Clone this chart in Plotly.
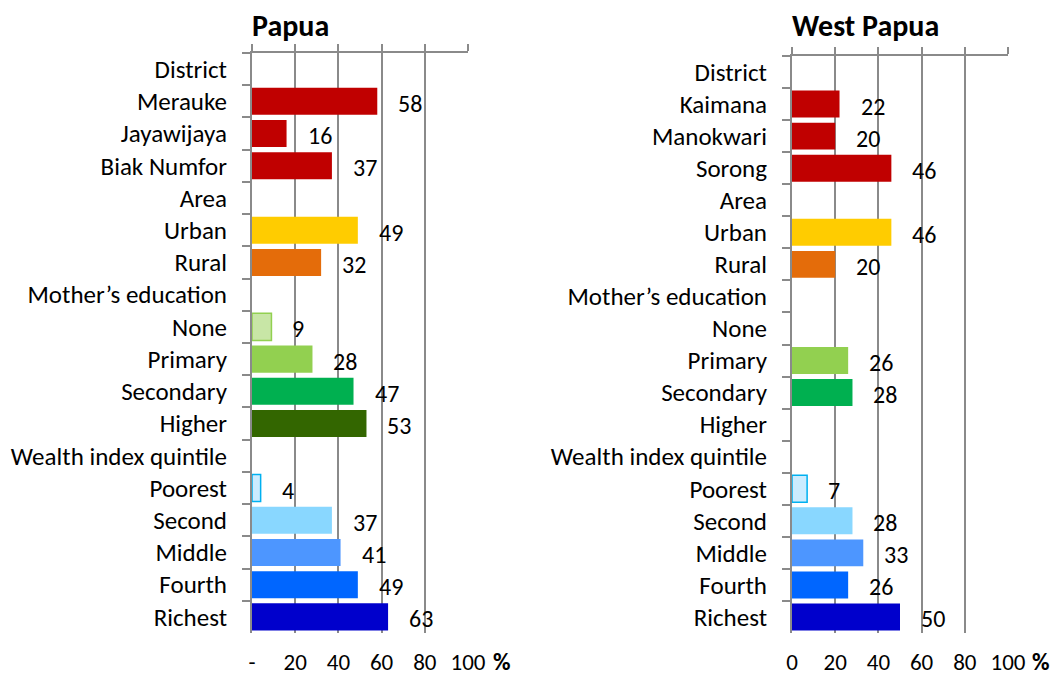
import plotly.graph_objects as go

papua_labels = ["District", "Merauke", "Jayawijaya", "Biak Numfor", "Area", "Urban", "Rural",
                "Mother’s education", "None", "Primary", "Secondary", "Higher", "Wealth index quintile",
                "Poorest", "Second", "Middle", "Fourth", "Richest"]
papua_values = [None, 58, 16, 37, None, 49, 32, None, 9, 28, 47, 53, None, 4, 37, 41, 49, 63]

wp_labels = ["District", "Kaimana", "Manokwari", "Sorong", "Area", "Urban", "Rural",
             "Mother’s education", "None", "Primary", "Secondary", "Higher", "Wealth index quintile",
             "Poorest", "Second", "Middle", "Fourth", "Richest"]
wp_values = [None, 22, 20, 46, None, 46, 20, None, None, 26, 28, None, None, 7, 28, 33, 26, 50]

fill_colors = ["#ffffff", "#C00000", "#C00000", "#C00000", "#ffffff", "#FFCC00", "#E46C0A",
               "#ffffff", "#C8E6A6", "#92D050", "#00B050", "#336600", "#ffffff",
               "#CCECFF", "#89D7FF", "#4D96FF", "#0066FF", "#0000CC"]
line_colors = ["#ffffff", "#C00000", "#C00000", "#C00000", "#ffffff", "#FFCC00", "#E46C0A",
               "#ffffff", "#92D050", "#92D050", "#00B050", "#336600", "#ffffff",
               "#00B0F0", "#89D7FF", "#4D96FF", "#0066FF", "#0000CC"]
line_widths = [0, 0, 0, 0, 0, 0, 0, 0, 1.5, 0, 0, 0, 0, 1.5, 0, 0, 0, 0]

x_ticks = [0, 20, 40, 60, 80, 100]
papua_ticktext = ["-", "20", "40", "60", "80", "100"]
wp_ticktext = ["0", "20", "40", "60", "80", "100"]

W, H = 1052, 675
FONT = "Carlito, Lato, 'Open Sans', sans-serif"
GRID = "#8a8a8a"
FS = 24
FS_CAT = 25

fig = go.Figure()

def add_panel(labels, values, xa, ya, xa_top):
    fig.add_trace(go.Bar(
        y=labels, x=values, orientation="h", xaxis=xa, yaxis=ya,
        marker=dict(color=fill_colors, line=dict(color=line_colors, width=line_widths)),
        showlegend=False, hoverinfo="x+y"))
    fig.add_trace(go.Scatter(x=[None], y=[None], xaxis=xa_top, yaxis=ya,
                             mode="markers", showlegend=False, hoverinfo="skip"))
    for lab, v in zip(labels, values):
        if v is None:
            continue
        fig.add_annotation(x=v, y=lab, xref=xa, yref=ya, text=str(v), showarrow=False,
                           xanchor="left", yanchor="middle", xshift=19, yshift=-2,
                           font=dict(family=FONT, size=FS, color="#000"))

add_panel(papua_labels, papua_values, "x", "y", "x3")
add_panel(wp_labels, wp_values, "x2", "y2", "x4")

def px_x(p):
    return p / W

def px_y(p):
    return 1 - p / H

dom1 = [px_x(252), px_x(468)]
dom2 = [px_x(792), px_x(1008)]
ydom1 = [px_y(633), px_y(53)]
ydom2 = [px_y(633), px_y(56)]

xbase = dict(range=[0, 100], tickvals=x_ticks, showgrid=True, gridcolor=GRID, gridwidth=1.5,
             zeroline=False, showline=False, ticks="", ticklabelstandoff=13, automargin=False,
             tickfont=dict(family=FONT, size=23, color="#000"), fixedrange=True)
xtop = dict(range=[0, 100], tickvals=x_ticks, showgrid=False, zeroline=False, showline=True,
            linecolor=GRID, linewidth=2, ticks="outside", ticklen=7, tickwidth=2, tickcolor=GRID,
            side="top", showticklabels=False, fixedrange=True, automargin=False)
ybase = dict(type="category", autorange="reversed", showgrid=False, zeroline=False, showline=True,
             linecolor=GRID, linewidth=2, ticks="outside", ticklen=8, tickwidth=2, tickcolor=GRID,
             tickson="boundaries", ticklabelstandoff=18, automargin=False,
             tickfont=dict(family=FONT, size=FS_CAT, color="#000"), fixedrange=True)

fig.update_layout(
    width=W, height=H, margin=dict(l=0, r=0, t=0, b=0, autoexpand=False),
    paper_bgcolor="white", plot_bgcolor="white", bargap=0.16,
    xaxis=dict(xbase, domain=dom1, anchor="y", ticktext=papua_ticktext),
    xaxis2=dict(xbase, domain=dom2, anchor="y2", ticktext=wp_ticktext),
    xaxis3=dict(xtop, domain=dom1, anchor="y", overlaying="x"),
    xaxis4=dict(xtop, domain=dom2, anchor="y2", overlaying="x2"),
    yaxis=dict(ybase, domain=ydom1, anchor="x", categoryorder="array", categoryarray=papua_labels),
    yaxis2=dict(ybase, domain=ydom2, anchor="x2", categoryorder="array", categoryarray=wp_labels),
)

titles = [("Papua", 250), ("West Papua", 790)]
for t, xp in titles:
    fig.add_annotation(x=px_x(xp), y=px_y(26), xref="paper", yref="paper", text=f"<b>{t}</b>",
                       showarrow=False, xanchor="left", yanchor="middle",
                       font=dict(family=FONT, size=30, color="#000"))
for xp in [502, 1041]:
    fig.add_annotation(x=px_x(xp), y=px_y(661), xref="paper", yref="paper", text="<b>%</b>",
                       showarrow=False, xanchor="center", yanchor="middle",
                       font=dict(family=FONT, size=FS, color="#000"))

fig.write_html("out.html", config={"displayModeBar": False},
               post_script="document.body.style.margin='0';")
